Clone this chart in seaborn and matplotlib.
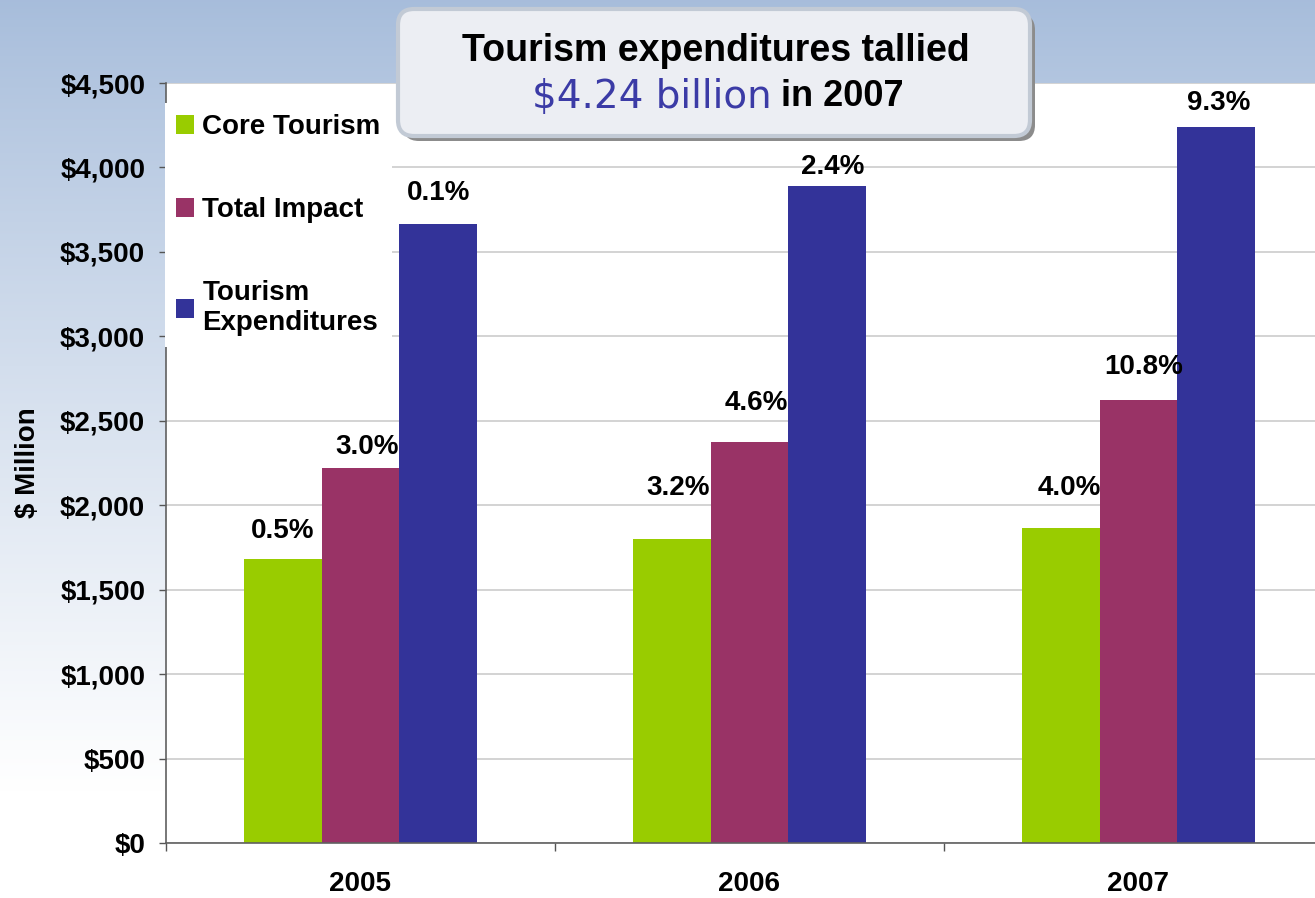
import numpy as np
import pandas as pd
import matplotlib
matplotlib.use("Agg")
import matplotlib.pyplot as plt
from matplotlib.patches import FancyBboxPatch
from matplotlib.transforms import IdentityTransform
from matplotlib.ticker import FuncFormatter
import seaborn as sns

# data ($ million)
years = ["2005", "2006", "2007"]
series = ["Core Tourism", "Total Impact", "Tourism\nExpenditures"]
core_tourism = [1682, 1800, 1863]
total_impact = [2220, 2374, 2623]
tourism_expenditures = [3665, 3890, 4239]
core_pct = ["0.5%", "3.2%", "4.0%"]
total_pct = ["3.0%", "4.6%", "10.8%"]
expend_pct = ["0.1%", "2.4%", "9.3%"]
y_ticks = [0, 500, 1000, 1500, 2000, 2500, 3000, 3500, 4000, 4500]

# label placement (pixels above bar top / sideways shift), hand placed in the original
label_dy = [[28, 51, 40], [21, 39, 33], [31, 19, 24]]
label_dx = [[0, 6, 9], [7, 7, 5], [0, 5, 2]]

colors = ["#99cc00", "#993366", "#333399"]

sns.set_style("white")
plt.rcParams["font.family"] = ["Liberation Sans", "DejaVu Sans"]
plt.rcParams["font.weight"] = "bold"
plt.rcParams["text.color"] = "black"
plt.rcParams["axes.labelcolor"] = "black"
plt.rcParams["xtick.labelcolor"] = "black"
plt.rcParams["ytick.labelcolor"] = "black"

W, H = 1315, 898
fig = plt.figure(figsize=(W / 100, H / 100), dpi=100)

# slide background: blue at the top fading to white
bg = fig.add_axes([0, 0, 1, 1], zorder=-10)
t = np.linspace(0, 1, 400)[:, None]
top = np.array([0.655, 0.741, 0.859])
mix = np.clip(t / 0.88, 0, 1) ** 0.9
grad = top + (1 - top) * mix
bg.imshow(grad[:, None, :].repeat(2, axis=1), aspect="auto", extent=[0, 1, 0, 1], origin="upper")
bg.axis("off")

ax = fig.add_axes([166 / W, 1 - 843 / H, 1 - 166 / W, (843 - 83) / H])
ax.set_facecolor("white")

df = pd.DataFrame({
    "Year": years * 3,
    "Series": [s for s in series for _ in years],
    "Value": core_tourism + total_impact + tourism_expenditures,
})

sns.barplot(data=df, x="Year", y="Value", hue="Series", hue_order=series,
            palette=colors, width=0.6, saturation=1, linewidth=0, ax=ax)

ax.set_yticks(y_ticks)
ax.yaxis.set_major_formatter(FuncFormatter(lambda v, p: f"${v:,.0f}"))
ax.set_xticks([-0.5, 0.5, 1.5], minor=True)
ax.set_ylim(0, 4500)
ax.set_xlim(-0.5, 2.454)
ax.tick_params(axis="x", which="major", length=0, pad=20, labelsize=20)
ax.tick_params(axis="x", which="minor", length=6, width=1, color="#555555",
               direction="out", bottom=True)
ax.tick_params(axis="y", length=5, width=1, color="#555555", pad=10, labelsize=20, left=True)
ax.set_xlabel("")
ax.set_ylabel("$ Million", fontsize=20, fontweight="bold")
ax.yaxis.set_label_coords(-0.1087, 0.5)

ax.yaxis.grid(True, color="#cccccc", linewidth=1.2)
ax.set_axisbelow(True)
for side in ["top", "right"]:
    ax.spines[side].set_visible(False)
for side in ["left", "bottom"]:
    ax.spines[side].set_color("#606060")
    ax.spines[side].set_linewidth(1.2)

# percentage growth labels above the bars
pct = [core_pct, total_pct, expend_pct]
for i, cont in enumerate(ax.containers):
    for j, bar in enumerate(cont):
        ax.annotate(pct[i][j], (bar.get_x() + bar.get_width() / 2, bar.get_height()),
                    xytext=(label_dx[i][j], label_dy[i][j]), textcoords="offset pixels",
                    ha="center", va="center", fontsize=20, fontweight="bold")

handles, labels = ax.get_legend_handles_labels()
leg = ax.legend(handles, labels, loc="upper left", bbox_to_anchor=(165 / W, 1 - 103 / H),
                bbox_transform=fig.transFigure, frameon=True, fancybox=False,
                facecolor="white", edgecolor="none", framealpha=1,
                prop={"size": 20, "weight": "bold"}, handlelength=0.65, handleheight=0.65,
                handletextpad=0.3, labelspacing=2.05, borderpad=0.4, borderaxespad=0)

# title box
shadow = FancyBboxPatch((403, 898 - 141), 632, 127, boxstyle="round,pad=0,rounding_size=16",
                        transform=IdentityTransform(), facecolor="#8c8c8c", edgecolor="none", zorder=5)
box = FancyBboxPatch((398, 898 - 136), 632, 127, boxstyle="round,pad=0,rounding_size=16",
                     transform=IdentityTransform(), facecolor="#eceef3", edgecolor="#c2cad5",
                     linewidth=3, zorder=6)
fig.add_artist(shadow)
fig.add_artist(box)
fig.text(716 / W, 1 - 51 / H, "Tourism expenditures tallied", ha="center", va="center",
         fontsize=27, fontweight="bold", zorder=7)
fig.text(772 / W, 1 - 97 / H, "$4.24 billion", ha="right", va="center", fontsize=28,
         fontweight="normal", family="DejaVu Sans", color="#3b3ba6", zorder=7)
fig.text(781 / W, 1 - 97 / H, "in 2007", ha="left", va="center", fontsize=26,
         fontweight="bold", zorder=7)

fig.savefig("out.png", dpi=100)
